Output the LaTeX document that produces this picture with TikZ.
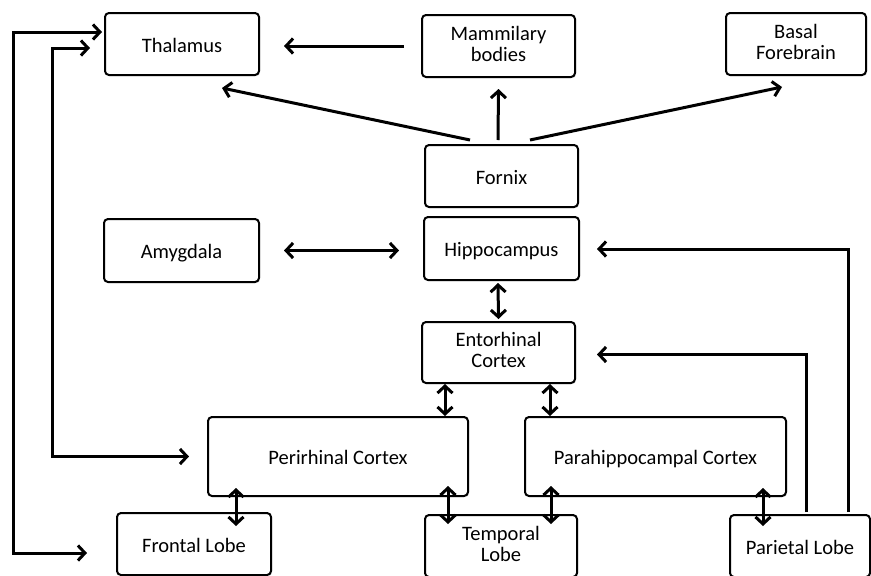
\documentclass[tikz,border=0pt]{standalone}
\usepackage{fontspec}
\setmainfont{Carlito}
\usetikzlibrary{arrows.meta,calc,shadows}
\begin{document}
\begin{tikzpicture}[x=1pt,y=-1pt,
  box/.style={draw, line width=2pt, rounded corners=4pt, inner sep=0pt, align=center,
    font=\fontsize{20.5}{21}\selectfont, fill=white,
    execute at begin node={\rule{0pt}{21pt}}, execute at end node={\rule[-5pt]{0pt}{5pt}},
    drop shadow={opacity=0.2, shadow xshift=1.2pt, shadow yshift=-1.2pt}},
  twoline/.style={box, execute at begin node={\rule{0pt}{17pt}}},
  arr/.style={line width=3pt, -{Straight Barb[length=7pt,width=15pt]}},
  dbl/.style={line width=3pt, {Straight Barb[length=7pt,width=15pt]}-{Straight Barb[length=7pt,width=15pt]}}]
\useasboundingbox (0,0) rectangle (871,576);
% nodes
\node[box, minimum width=154pt, minimum height=62pt] (thal) at (182,44) {Thalamus};
\node[twoline, minimum width=153pt, minimum height=62pt] (mam) at (498.5,46) {Mammilary\\bodies};
\node[twoline, minimum width=140pt, minimum height=62pt] (bas) at (796,44) {Basal\\Forebrain};
\node[box, minimum width=153pt, minimum height=62pt] (forn) at (501.5,176) {Fornix};
\node[box, minimum width=155pt, minimum height=63pt] (amy) at (181.5,250.5) {Amygdala};
\node[box, minimum width=155pt, minimum height=63pt] (hip) at (501.5,248.5) {Hippocampus};
\node[twoline, minimum width=153pt, minimum height=61pt] (ent) at (498.5,352.5) {Entorhinal\\Cortex};
\node[box, minimum width=260pt, minimum height=79pt] (peri) at (338,456.5) {Perirhinal Cortex};
\node[box, minimum width=261pt, minimum height=79pt] (para) at (655.5,456.5) {Parahippocampal Cortex};
\node[box, minimum width=154pt, minimum height=62pt] (fro) at (194,544) {Frontal Lobe};
\node[twoline, minimum width=152pt, minimum height=62pt] (tem) at (501,546) {Temporal\\Lobe};
\node[box, minimum width=140pt, minimum height=62pt] (par) at (800,546) {Parietal Lobe};
% coordinates
\coordinate (xo) at (13,0);
\coordinate (xi) at (52,0);
\coordinate (thA) at ($(thal.west)+(-2,-12)$);
\coordinate (thB) at ($(thal.west)+(-14,4)$);
\coordinate (frA) at ($(fro.west)+(-29,9)$);
\coordinate (peB) at ($(peri.west)+(-18,0)$);
% connectors
\draw[arr, shorten <=17pt, shorten >=24pt] (mam.west) -- (mam.west -| thal.east);
\draw[arr] ($(forn.north)+(-31.5,-4)$) -- ($(thal.south)+(40,12)$);
\draw[arr] ($(forn.north)+(-3.5,-4)$) -- ($(mam.south)+(0,11)$);
\draw[arr] ($(forn.north)+(28.5,-4)$) -- ($(bas.south)+(-14,11)$);
\draw[dbl, shorten <=24pt, shorten >=24pt] (amy.east) -- (amy.east -| hip.west);
\draw[dbl] ($(hip.south)+(-3.5,2)$) -- ($(ent.north)+(0,-2)$);
\draw[arr] ($(par.north)+(48,-2)$) |- ($(hip.east)+(17,0.5)$);
\draw[arr] ($(par.north)+(6,-2)$) |- ($(ent.east)+(21,2)$);
\draw[dbl] ($(ent.south)+(-53.5,0)$) -- ($(peri.north)+(107,0)$);
\draw[dbl] ($(ent.south)+(51.5,0)$) -- ($(para.north)+(-105.5,0)$);
\draw[dbl] ($(fro.north)+(42,14)$) -- ($(peri.south)+(-102,-9)$);
\draw[dbl] ($(peri.south)+(110,-11)$) -- ($(tem.north)+(-53,10)$);
\draw[dbl] ($(para.south)+(-104.5,-11)$) -- ($(tem.north)+(50,10)$);
\draw[dbl] ($(para.south)+(107.5,-9)$) -- ($(par.north)+(-37,12)$);
\draw[dbl] (thA) -- (thA -| xo) -- (frA -| xo) -- (frA);
\draw[dbl] (thB) -- (thB -| xi) -- (peB -| xi) -- (peB);
\end{tikzpicture}
\end{document}
